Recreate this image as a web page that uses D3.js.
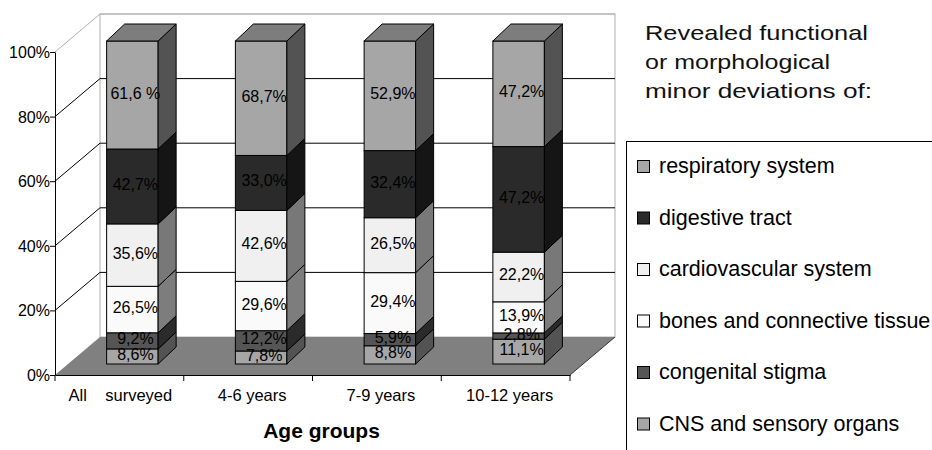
<!DOCTYPE html>
<html>
<head>
<meta charset="utf-8">
<script src="https://cdn.jsdelivr.net/npm/d3@7"></script>
<style>
  body { margin: 0; background: #fff; }
  svg { font-family: "Liberation Sans", Arial, sans-serif; }
</style>
</head>
<body>
<div id="chart"></div>
<script>
const width = 932;
const height = 450;

// data
const categories = ["All surveyed", "4-6 years", "7-9 years", "10-12 years"];
const tickLabels = ["All    surveyed", "4-6 years", "7-9 years", "10-12 years"];
const seriesNames = ["CNS and sensory organs", "congenital stigma", "bones and connective tissue",
    "cardiovascular system", "digestive tract", "respiratory system"];
const cns = [8.6, 7.8, 8.8, 11.1];
const congenital = [9.2, 12.2, 5.9, 2.8];
const bones = [26.5, 29.6, 29.4, 13.9];
const cardio = [35.6, 42.6, 26.5, 22.2];
const digestive = [42.7, 33.0, 32.4, 47.2];
const respiratory = [61.6, 68.7, 52.9, 47.2];
const yTicks = [0, 0.2, 0.4, 0.6, 0.8, 1];
const colors = ["#a6a6a6", "#555555", "#fafafa", "#f0f0f0", "#2a2a2a", "#a6a6a6"];
const titleLines = ["Revealed functional", "or morphological", "minor deviations of:"];

const seriesValues = [cns, congenital, bones, cardio, digestive, respiratory];
const table = categories.map((c, i) => {
    const row = { category: c };
    seriesNames.forEach((s, j) => row[s] = seriesValues[j][i]);
    return row;
});

const stacked = d3.stack()
    .keys(seriesNames)
    .offset(d3.stackOffsetExpand)(table);

// 3d geometry
const depth = { dx: 45, dy: -38 };
const barOff = { dx: 13, dy: -11 };
const barDepth = { dx: 18, dy: -17 };

const x = d3.scaleBand().domain(categories).range([55, 570]);
const y = d3.scaleLinear().domain([0, 1]).range([375, 52]);
const barW = x.bandwidth() * 0.4;

const svg = d3.select("#chart")
    .append("svg")
    .attr("width", width)
    .attr("height", height);

function shade(c, f) {
    const r = d3.rgb(c);
    return d3.rgb(r.r * f, r.g * f, r.b * f).formatHex();
}

function fmt(v) {
    return v.toFixed(1).replace(".", ",") + "%";
}
const labelOverrides = { "All surveyed|respiratory system": "61,6 %" };

const x0 = x.range()[0], x1 = x.range()[1];
const yb = y(0), yt = y(1);

// back wall
svg.append("rect")
    .attr("x", x0 + depth.dx).attr("y", yt + depth.dy)
    .attr("width", x1 - x0).attr("height", yb - yt)
    .attr("fill", "#fff").attr("stroke", "#b0b0b0");

// gridlines on side wall and back wall
yTicks.filter(t => t > 0).forEach(t => {
    const yy = y(t);
    svg.append("polyline")
        .attr("points", [[x0, yy], [x0 + depth.dx, yy + depth.dy], [x1 + depth.dx, yy + depth.dy]].join(" "))
        .attr("fill", "none")
        .attr("stroke", t === 1 ? "#b0b0b0" : "#000");
});

// floor
svg.append("polygon")
    .attr("points", [[x0, yb], [x1, yb], [x1 + depth.dx, yb + depth.dy], [x0 + depth.dx, yb + depth.dy]].join(" "))
    .attr("fill", "#808080");
svg.append("line")
    .attr("x1", x1).attr("y1", yb).attr("x2", x1 + depth.dx).attr("y2", yb + depth.dy)
    .attr("stroke", "#333");

// y axis
const yAxis = svg.append("g")
    .attr("transform", `translate(${x0},0)`)
    .call(d3.axisLeft(y).tickValues(yTicks).tickFormat(d3.format(".0%")).tickSize(5).tickSizeOuter(0));
yAxis.selectAll("text").attr("font-size", 16).attr("font-family", null).attr("x", -5).attr("dy", "0.34em").attr("fill", "#000");
yAxis.selectAll("line, path").attr("stroke", "#000");

// x axis
const xAxis = svg.append("g")
    .attr("transform", `translate(0,${yb})`)
    .call(d3.axisBottom(x).tickSize(0).tickSizeOuter(0).tickFormat((d, i) => tickLabels[i]));
xAxis.select(".domain").attr("stroke", "#000");
xAxis.selectAll("text")
    .attr("font-size", 16.5).attr("font-family", null)
    .attr("fill", "#000")
    .attr("x", (d, i) => i === 0 ? 1 : 4).attr("y", 26).attr("dy", null)
    .style("white-space", "pre");
const bounds = categories.map(c => x(c)).concat([x1]);
svg.selectAll(".xtick")
    .data(bounds)
    .join("line")
    .attr("class", "xtick")
    .attr("x1", d => d).attr("x2", d => d)
    .attr("y1", yb).attr("y2", yb + 6)
    .attr("stroke", "#000");

svg.append("text")
    .attr("x", (x0 + x1) / 2 + 9).attr("y", 438)
    .attr("text-anchor", "middle")
    .attr("font-size", 21).attr("font-weight", "bold")
    .text("Age groups");

// bars
categories.forEach((c, i) => {
    const bx = x(c) + (x.bandwidth() - barW) / 2 + barOff.dx;
    const g = svg.append("g").attr("class", "bar");
    stacked.forEach((s, j) => {
        const ya = y(s[i][0]) + barOff.dy;
        const yz = y(s[i][1]) + barOff.dy;
        const col = colors[j];
        g.append("rect")
            .attr("x", bx).attr("y", yz)
            .attr("width", barW).attr("height", ya - yz)
            .attr("fill", col).attr("stroke", "#000");
        g.append("polygon")
            .attr("points", [[bx + barW, ya], [bx + barW + barDepth.dx, ya + barDepth.dy],
                [bx + barW + barDepth.dx, yz + barDepth.dy], [bx + barW, yz]].join(" "))
            .attr("fill", shade(col, 0.5)).attr("stroke", "#000");
        if (j === stacked.length - 1) {
            g.append("polygon")
                .attr("points", [[bx, yz], [bx + barDepth.dx, yz + barDepth.dy],
                    [bx + barW + barDepth.dx, yz + barDepth.dy], [bx + barW, yz]].join(" "))
                .attr("fill", shade(col, 0.75)).attr("stroke", "#000");
        }
    });
    stacked.forEach((s, j) => {
        const ya = y(s[i][0]) + barOff.dy;
        const yz = y(s[i][1]) + barOff.dy;
        const key = c + "|" + s.key;
        g.append("text")
            .attr("x", bx + barW / 2 + 3)
            .attr("y", (ya + yz) / 2 + 3.5)
            .attr("text-anchor", "middle")
            .attr("font-size", 16)
            .attr("fill", "#000")
            .style("white-space", "pre")
            .text(labelOverrides[key] || fmt(seriesValues[j][i]));
    });
});

// legend title
const titleWidths = [223, 185, 227];
svg.selectAll(".ltitle")
    .data(titleLines)
    .join("text")
    .attr("class", "ltitle")
    .attr("x", 645)
    .attr("y", (d, i) => 40 + i * 29)
    .attr("font-size", 21)
    .attr("textLength", (d, i) => titleWidths[i])
    .attr("lengthAdjust", "spacingAndGlyphs")
    .attr("fill", "#111")
    .text(d => d);

// legend box
svg.append("rect")
    .attr("x", 626.5).attr("y", 141.5)
    .attr("width", 400).attr("height", 400)
    .attr("fill", "none").attr("stroke", "#000");

const legendItems = seriesNames.map((s, j) => ({ name: s, color: colors[j] })).reverse();
const li = svg.selectAll(".litem")
    .data(legendItems)
    .join("g")
    .attr("class", "litem")
    .attr("transform", (d, i) => `translate(637,${173 + i * 51.5})`);
li.append("rect")
    .attr("x", 0.5).attr("y", -12.5)
    .attr("width", 12).attr("height", 12)
    .attr("fill", d => d.color).attr("stroke", "#000");
li.append("text")
    .attr("x", 22).attr("y", 0)
    .attr("font-size", 21.5)
    .attr("fill", "#000")
    .text(d => d.name);
</script>
</body>
</html>
